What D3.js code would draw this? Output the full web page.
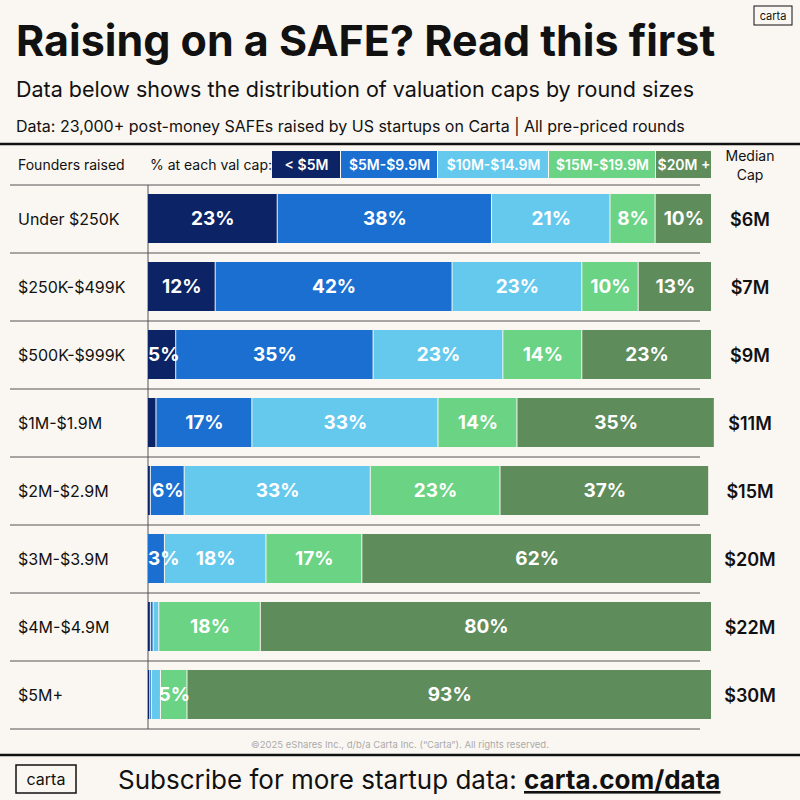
<!DOCTYPE html>
<html><head><meta charset="utf-8">
<script src="https://cdn.jsdelivr.net/npm/d3@7"></script>
<style>body{margin:0;background:#faf7f2}text{font-family:Inter,"DejaVu Sans",sans-serif}</style>
</head><body><svg id="c" width="800" height="800"></svg>
<script>
var rounds = ["Under $250K", "$250K-$499K", "$500K-$999K", "$1M-$1.9M", "$2M-$2.9M", "$3M-$3.9M", "$4M-$4.9M", "$5M+"];
var buckets = ["< $5M", "$5M-$9.9M", "$10M-$14.9M", "$15M-$19.9M", "$20M +"];
var shares = [
  [23, 38, 21, 8, 10],
  [12, 42, 23, 10, 13],
  [5, 35, 23, 14, 23],
  [1.5, 17, 33, 14, 35],
  [0.5, 6, 33, 23, 37],
  [0, 3, 18, 17, 62],
  [0.5, 0.5, 1, 18, 80],
  [0.4, 0.3, 1.6, 4.7, 93]
];
var medianCap = ["$6M", "$7M", "$9M", "$11M", "$15M", "$20M", "$22M", "$30M"];
var colors = ["#0c2365", "#1a6fd0", "#65c9ee", "#6ad384", "#5f8c5b"];

var svg = d3.select("#c");
var ink = "#111";

svg.append("text").attr("x", 16).attr("y", 56).attr("font-size", 43).attr("font-weight", 700).attr("fill", ink).text("Raising on a SAFE? Read this first");
svg.append("text").attr("x", 16).attr("y", 97).attr("font-size", 21.5).attr("fill", ink).text("Data below shows the distribution of valuation caps by round sizes");
svg.append("text").attr("x", 16).attr("y", 132).attr("font-size", 16).attr("fill", ink).text("Data: 23,000+ post-money SAFEs raised by US startups on Carta | All pre-priced rounds");
svg.append("rect").attr("x", 754).attr("y", 6).attr("width", 38).attr("height", 19).attr("fill", "none").attr("stroke", ink);
svg.append("text").attr("x", 773).attr("y", 20).attr("text-anchor", "middle").attr("font-size", 11).attr("fill", ink).text("carta");
svg.append("line").attr("x1", 0).attr("x2", 800).attr("y1", 144).attr("y2", 144).attr("stroke", ink).attr("stroke-width", 2.5);

var x = d3.scaleLinear().domain([0, 100]).range([148, 712]);
var y = d3.scaleBand().domain(rounds).range([185, 729]).paddingInner(0);

// header
svg.append("text").attr("x", 18).attr("y", 170).attr("font-size", 14).attr("fill", ink).text("Founders raised");
svg.append("text").attr("x", 150).attr("y", 170).attr("font-size", 14).attr("fill", ink).text("% at each val cap:");
var legX = [272, 341, 438, 549, 656, 712];
buckets.forEach(function(b, i) {
  svg.append("rect").attr("x", legX[i]).attr("y", 151).attr("width", legX[i + 1] - legX[i] - 1).attr("height", 27).attr("fill", colors[i]);
  svg.append("text").attr("x", (legX[i] + legX[i + 1]) / 2).attr("y", 170).attr("text-anchor", "middle").attr("font-size", 14).attr("font-weight", 600).attr("fill", "#fff").text(b);
});
svg.append("text").attr("x", 750).attr("y", 161).attr("text-anchor", "middle").attr("font-size", 14).attr("fill", ink).text("Median");
svg.append("text").attr("x", 750).attr("y", 180).attr("text-anchor", "middle").attr("font-size", 14).attr("fill", ink).text("Cap");

// grid lines
svg.selectAll(".sep").data(rounds.concat(["end"])).enter().append("line")
  .attr("x1", 10).attr("x2", 700)
  .attr("y1", function(d, i) { return 185 + i * y.bandwidth(); })
  .attr("y2", function(d, i) { return 185 + i * y.bandwidth(); })
  .attr("stroke", "#555").attr("stroke-width", 1);
svg.append("line").attr("x1", 148).attr("x2", 148).attr("y1", 185).attr("y2", 729).attr("stroke", "#555");

var rowG = svg.selectAll(".row").data(shares).enter().append("g")
  .attr("transform", function(d, i) { return "translate(0," + y(rounds[i]) + ")"; });
rowG.each(function(vals, r) {
  var g = d3.select(this), acc = 0, h = y.bandwidth(), labels = [];
  g.append("text").attr("x", 18).attr("y", h / 2 + 6).attr("font-size", 16).attr("fill", ink).text(rounds[r]);
  g.append("text").attr("x", 750).attr("y", h / 2 + 7).attr("text-anchor", "middle").attr("font-size", 18).attr("font-weight", 600).attr("fill", ink).text(medianCap[r]);
  vals.forEach(function(v, i) {
    var x0 = x(acc), x1 = x(acc + v);
    acc += v;
    if (v <= 0) return;
    g.append("rect").attr("x", x0).attr("y", 9).attr("width", Math.max(x1 - x0 - 1, 0.8)).attr("height", h - 19).attr("fill", colors[i]);
    if (v >= 3) labels.push({ cx: (x0 + x1) / 2, v: v });
  });
  labels.forEach(function(l) {
    var t = g.append("text").attr("y", h / 2 + 6).attr("text-anchor", "middle")
      .attr("font-size", 19).attr("font-weight", 700).attr("fill", "#fff").text(Math.round(l.v) + "%");
    var half = t.node().getComputedTextLength() / 2;
    t.attr("x", Math.max(l.cx, x(0) + half));
  });
});

svg.append("text").attr("x", 400).attr("y", 748).attr("text-anchor", "middle").attr("font-size", 9.5).attr("fill", "#aaa").text("©2025 eShares Inc., d/b/a Carta Inc. (“Carta”). All rights reserved.");
svg.append("line").attr("x1", 0).attr("x2", 800).attr("y1", 755).attr("y2", 755).attr("stroke", ink).attr("stroke-width", 2.5);
svg.append("rect").attr("x", 16).attr("y", 765).attr("width", 60).attr("height", 28).attr("fill", "none").attr("stroke", ink).attr("stroke-width", 1.5);
svg.append("text").attr("x", 46).attr("y", 785).attr("text-anchor", "middle").attr("font-size", 16).attr("fill", ink).text("carta");
var ft = svg.append("text").attr("x", 118).attr("y", 789).attr("font-size", 26).attr("fill", ink);
ft.append("tspan").text("Subscribe for more startup data: ");
ft.append("tspan").attr("font-weight", 700).attr("text-decoration", "underline").text("carta.com/data");
</script></body></html>
